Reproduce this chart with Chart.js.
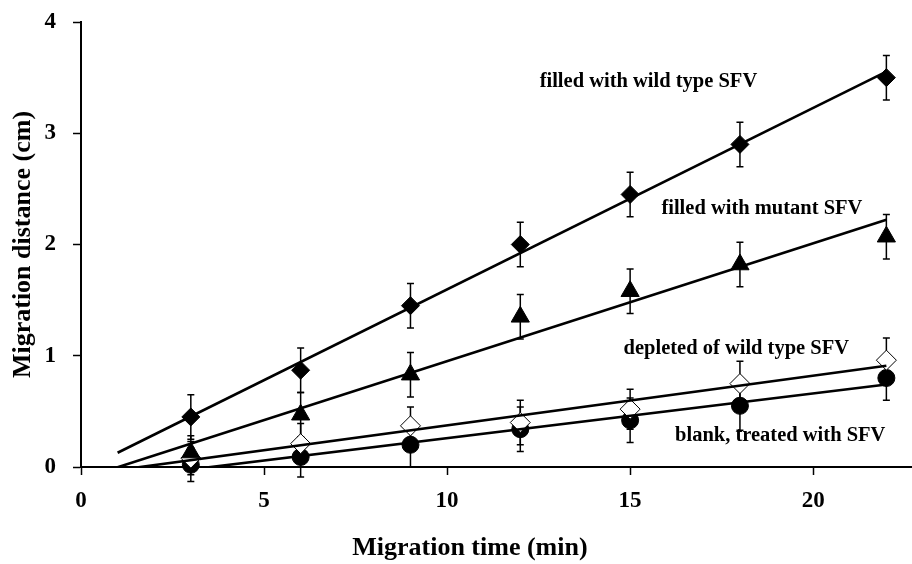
<!DOCTYPE html>
<html>
<head>
<meta charset="utf-8">
<title>Migration distance vs time</title>
<script src="https://cdn.jsdelivr.net/npm/chart.js@4.4.0/dist/chart.umd.min.js"></script>
<style>
  html, body { margin: 0; padding: 0; background: #fff; }
</style>
</head>
<body>
<canvas id="chart" width="912" height="564"></canvas>
<script>
// sampling times (min)
const times = [3, 6, 9, 12, 15, 18, 22];

// migration distance (cm) and error (cm) per condition
const wildType = [0.45, 0.87, 1.45, 2.0, 2.45, 2.9, 3.5];
const wildTypeErr = [0.2, 0.2, 0.2, 0.2, 0.2, 0.2, 0.2];
const mutant = [0.13, 0.47, 0.83, 1.35, 1.58, 1.82, 2.07];
const mutantErr = [0.15, 0.2, 0.2, 0.2, 0.2, 0.2, 0.2];
const depleted = [0.08, 0.21, 0.37, 0.4, 0.52, 0.75, 0.96];
const depletedErr = [0.15, 0.18, 0.17, 0.2, 0.18, 0.2, 0.2];
const blank = [0.02, 0.09, 0.2, 0.34, 0.42, 0.55, 0.8];
const blankErr = [0.15, 0.18, 0.2, 0.2, 0.2, 0.22, 0.2];

const seriesNames = ['filled with wild type SFV', 'filled with mutant SFV',
  'depleted of wild type SFV', 'blank, treated with SFV'];

const xTicks = [0, 5, 10, 15, 20];
const yTicks = [0, 1, 2, 3, 4];

const SERIF = "'Liberation Serif', 'Times New Roman', serif";

// least squares line through a series
function linearFit(xs, ys) {
  const n = xs.length;
  const mx = xs.reduce((a, b) => a + b, 0) / n;
  const my = ys.reduce((a, b) => a + b, 0) / n;
  let sxy = 0, sxx = 0;
  for (let i = 0; i < n; i++) {
    sxy += (xs[i] - mx) * (ys[i] - my);
    sxx += (xs[i] - mx) * (xs[i] - mx);
  }
  const slope = sxy / sxx;
  return { slope, intercept: my - slope * mx };
}

const series = [
  { values: wildType, err: wildTypeErr, style: 'rectRot', radius: 9, fill: '#000' },
  { values: mutant, err: mutantErr, style: 'triangle', radius: 10.5, fill: '#000' },
  { values: depleted, err: depletedErr, style: 'rectRot', radius: 10, fill: '#fff' },
  { values: blank, err: blankErr, style: 'circle', radius: 8.5, fill: '#000' }
];

// trend lines run back to 1 min
const trendFrom = 1;
const trendTo = times[times.length - 1];

const datasets = [];
series.forEach((s, i) => {
  const f = linearFit(times, s.values);
  datasets.push({
    type: 'line',
    label: seriesNames[i] + ' (fit)',
    data: [trendFrom, trendTo].map(t => ({ x: t, y: f.intercept + f.slope * t })),
    borderColor: '#000',
    borderWidth: 2.6,
    pointRadius: 0,
    fill: false,
    clip: 0,
    order: 0
  });
});
series.forEach((s, i) => {
  datasets.push({
    type: 'scatter',
    label: seriesNames[i],
    data: times.map((t, j) => ({ x: t, y: s.values[j] })),
    errors: s.err,
    pointStyle: s.style,
    pointRadius: s.radius,
    pointBackgroundColor: s.fill,
    pointBorderColor: '#000',
    pointBorderWidth: 1,
    showLine: false,
    clip: false,
    order: 1
  });
});

// vertical error bars with caps, under the markers
const errorBars = {
  id: 'errorBars',
  beforeDatasetsDraw(chart) {
    const { ctx, scales: { x, y } } = chart;
    ctx.save();
    ctx.strokeStyle = '#000';
    ctx.lineWidth = 1.5;
    chart.data.datasets.forEach(ds => {
      if (!ds.errors) return;
      ds.data.forEach((p, j) => {
        const px = x.getPixelForValue(p.x);
        const top = y.getPixelForValue(p.y + ds.errors[j]);
        const bot = y.getPixelForValue(p.y - ds.errors[j]);
        ctx.beginPath();
        ctx.moveTo(px, top); ctx.lineTo(px, bot);
        ctx.moveTo(px - 3.5, top); ctx.lineTo(px + 3.5, top);
        ctx.moveTo(px - 3.5, bot); ctx.lineTo(px + 3.5, bot);
        ctx.stroke();
      });
    });
    ctx.restore();
  }
};

// series names written next to their lines, plus the x axis title
const labelAt = [
  { x: 15.5, y: 3.46 },
  { x: 18.6, y: 2.32 },
  { x: 17.9, y: 1.06 },
  { x: 19.1, y: 0.28 }
];
const textLayer = {
  id: 'textLayer',
  afterDraw(chart) {
    const { ctx, scales: { x, y } } = chart;
    ctx.save();
    ctx.fillStyle = '#000';
    ctx.textAlign = 'center';
    ctx.textBaseline = 'middle';
    ctx.font = 'bold 20.5px ' + SERIF;
    seriesNames.forEach((name, i) => {
      ctx.fillText(name, x.getPixelForValue(labelAt[i].x), y.getPixelForValue(labelAt[i].y));
    });
    ctx.font = 'bold 26px ' + SERIF;
    ctx.fillText('Migration time (min)', x.left + (x.right - x.left) * 0.468, chart.height - 16);
    ctx.restore();
  }
};

new Chart(document.getElementById('chart'), {
  data: { datasets },
  options: {
    responsive: false,
    animation: false,
    devicePixelRatio: 1,
    layout: { autoPadding: false, padding: { top: 22, right: 0, left: 0, bottom: 0 } },
    plugins: {
      legend: { display: false },
      tooltip: { enabled: false }
    },
    scales: {
      x: {
        type: 'linear',
        min: 0,
        max: 22.7,
        afterBuildTicks: s => { s.ticks = xTicks.map(v => ({ value: v })); },
        afterFit: s => { s.height = 97; },
        ticks: { color: '#000', font: { family: SERIF, size: 23, weight: 'bold' }, padding: 12 },
        grid: { drawOnChartArea: false, drawTicks: true, tickLength: 8, tickWidth: 1.5, tickColor: '#000' },
        border: { color: '#000', width: 2 }
      },
      y: {
        type: 'linear',
        min: 0,
        max: 4,
        afterBuildTicks: s => { s.ticks = yTicks.map(v => ({ value: v })); },
        afterFit: s => { s.width = 81; s.paddingTop = 0; s.paddingBottom = 0; },
        ticks: { color: '#000', font: { family: SERIF, size: 23, weight: 'bold' }, padding: 17 },
        grid: { drawOnChartArea: false, drawTicks: true, tickLength: 8, tickWidth: 1.5, tickColor: '#000' },
        border: { color: '#000', width: 2 },
        title: {
          display: true,
          text: 'Migration distance (cm)',
          color: '#000',
          font: { family: SERIF, size: 26, weight: 'bold' },
          padding: { top: 8, bottom: 0 }
        }
      }
    }
  },
  plugins: [errorBars, textLayer]
});
</script>
</body>
</html>
